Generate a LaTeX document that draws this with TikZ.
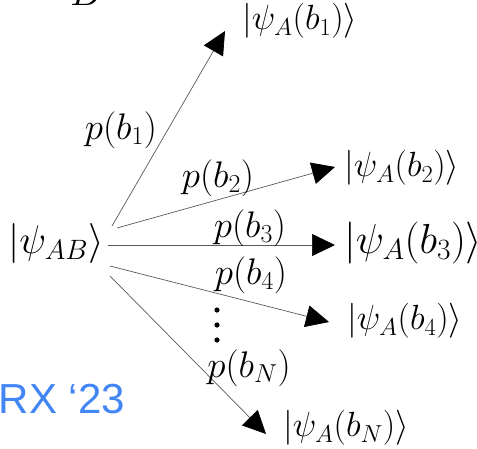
\RequirePackage{fix-cm}
\documentclass[tikz,border=0pt]{standalone}
\usepackage{fontspec}
\newfontfamily\labelsans{Liberation Sans}
\usetikzlibrary{arrows.meta}
\definecolor{rxblue}{RGB}{66,133,244}
\begin{document}
\begin{tikzpicture}[x=1pt,y=-1pt,
 lab/.style={inner sep=0pt, font=\fontsize{35}{40}\selectfont},
 big/.style={inner sep=0pt, font=\fontsize{40}{46}\selectfont},
 bigger/.style={inner sep=0pt, font=\fontsize{42}{48}\selectfont},
 prob/.style={inner sep=0pt, font=\fontsize{37}{42}\selectfont},
 arr/.style={draw=black!65, line width=0.7pt, -{Triangle[length=23pt,width=22pt,color=black]}}]
\useasboundingbox (0,0) rectangle (477,448);
\clip (0,0) rectangle (477,448);
% cropped letter at top
\node[anchor=base, inner sep=0pt, font=\fontsize{40}{48}\selectfont] (Btop) at (86,5) {$B$};
% source
\node[big] (AB) at (56,243) {$|\psi_{AB}\rangle$};
\coordinate (s1) at (112,226);
\coordinate (s2) at (117,228);
\coordinate (s3) at (108,245);
\coordinate (s4) at (110,266);
\coordinate (s5) at (110,276);
% targets
\coordinate (t1) at (225,31);
\coordinate (t2) at (335,167);
\coordinate (t3) at (335,245);
\coordinate (t4) at (329,322);
\coordinate (t5) at (266,434);
\node[lab, anchor=west] (L1) at (242,21) {$|\psi_A(b_1)\rangle$};
\node[lab, anchor=west] (L2) at (344,168) {$|\psi_A(b_2)\rangle$};
\node[bigger, anchor=west] (L3) at (344,243) {$|\psi_A(b_3)\rangle$};
\node[lab, anchor=west] (L4) at (347,321) {$|\psi_A(b_4)\rangle$};
\node[lab, anchor=west] (L5) at (283,428) {$|\psi_A(b_N)\rangle$};
% arrows
\draw[arr] (s1) -- (t1);
\draw[arr] (s2) -- (t2);
\draw[arr] (s3) -- (t3);
\draw[arr] (s4) -- (t4);
\draw[arr] (s5) -- (t5);
% probabilities
\node[prob] (p1) at (121,130) {$p(b_1)$};
\node[prob] (p2) at (218,178) {$p(b_2)$};
\node[prob] (p3) at (250,228) {$p(b_3)$};
\node[prob] (p4) at (251,275) {$p(b_4)$};
\node[prob] (pN) at (249,368) {$p(b_N)$};
% vertical dots
\fill (217,310) circle (2.6);
\fill (217,325) circle (2.6);
\fill (217,340) circle (2.6);
% blue caption
\node[anchor=base east, inner sep=0pt, text=rxblue, font=\labelsans\fontsize{42}{48}\selectfont] (rx) at (125,413) {RX ‘23};
\end{tikzpicture}
\end{document}
